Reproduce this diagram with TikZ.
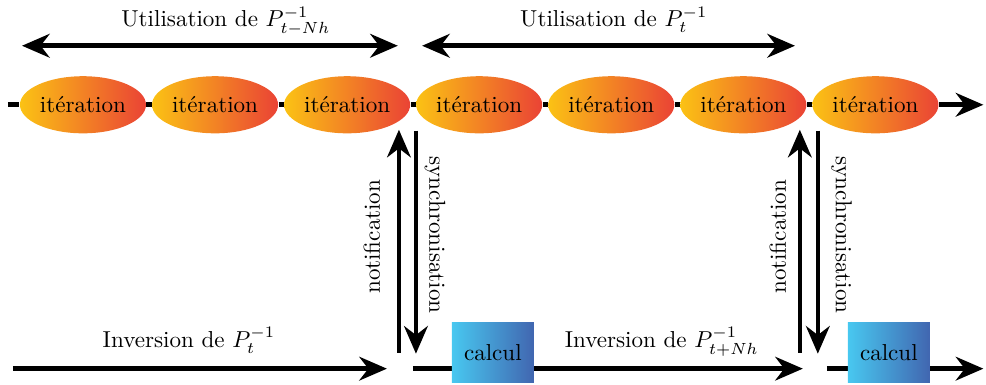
\documentclass[tikz,border=0pt]{standalone}
\usepackage{fontspec}
\usepackage{amsmath,amssymb}
\usetikzlibrary{shapes.geometric,arrows.meta}
\definecolor{iterleft}{HTML}{FBC214}
\definecolor{iterright}{HTML}{EA4335}
\definecolor{calcleft}{HTML}{48C8F0}
\definecolor{calcright}{HTML}{4166B0}
\tikzset{
  iteration/.style={
    shape = ellipse,
    inner sep = 0pt,
    minimum width = 1.92cm,
    minimum height = 0.87cm,
    left color = iterleft,
    right color = iterright
  },
  calcul/.style={
    shape = rectangle,
    inner sep = 0pt,
    minimum width = 1.25cm,
    minimum height = 0.91cm,
    left color = calcleft,
    right color = calcright
  },
  flow/.style={
    line width = 2pt,
    -{Stealth[length=4.2mm,width=3.6mm]}
  },
  span/.style={
    line width = 2pt,
    {Stealth[length=4.2mm,width=3.6mm]}-{Stealth[length=4.2mm,width=3.6mm]}
  }
}

\begin{document}
\begin{tikzpicture}
        \useasboundingbox (0,0) rectangle (15.02,5.86);
        % ligne des iterations
        \coordinate (start) at (0.12,4.264);
        \coordinate (end) at (14.98,4.264);
        \foreach \i in {1,...,7}{
                \node[iteration] (it\i) at ({1.264+2.012*(\i-1)},4.264) {itération};
            }
        \draw[line width=2pt] (start) -- (it1);
        \foreach \i [evaluate=\i as \j using int(\i+1)] in {1,...,6}{
                \draw[line width=2pt] (it\i) -- (it\j);
            }
        \draw[flow] (it7) -- (end);
        % utilisation
        \coordinate (u1a) at (0.335,5.163);
        \coordinate (u1b) at (6.06,5.163);
        \coordinate (u2a) at (6.43,5.163);
        \coordinate (u2b) at (12.11,5.163);
        \draw[span] (u1a) -- (u1b);
        \draw[span] (u2a) -- (u2b);
        \node[anchor=base] (use1) at (3.44,5.45) {Utilisation de $P^{-1}_{t-Nh}$};
        \node[anchor=base] (use2) at (9.35,5.45) {Utilisation de $P^{-1}_{t}$};
        % notification / synchronisation
        \foreach \k/\xn/\xs in {1/6.077/6.336, 2/12.184/12.458}{
                \coordinate (nb\k) at (\xn,0.487);
                \coordinate (nt\k) at (\xn,3.884);
                \coordinate (st\k) at (\xs,3.87);
                \coordinate (sb\k) at (\xs,0.472);
                \draw[flow] (nb\k) -- (nt\k);
                \draw[flow] (st\k) -- (sb\k);
            }
        \node[rotate=90] (notif1) at (5.666,2.254) {notification};
        \node[rotate=-90] (sync1) at (6.625,2.28) {synchronisation};
        \node[rotate=90] (notif2) at (11.85,2.254) {notification};
        \node[rotate=-90] (sync2) at (12.82,2.28) {synchronisation};
        % inversion
        \coordinate (b1s) at (0.198,0.244);
        \coordinate (b1e) at (5.894,0.244);
        \coordinate (b2s) at (6.29,0.244);
        \coordinate (b2e) at (12.23,0.244);
        \coordinate (b3s) at (12.595,0.244);
        \coordinate (b3e) at (14.98,0.244);
        \draw[flow] (b1s) -- (b1e);
        \draw[flow] (b2s) -- (b2e);
        \draw[flow] (b3s) -- (b3e);
        \node[calcul] (calc1) at (7.508,0.487) {calcul};
        \node[calcul] (calc2) at (13.54,0.487) {calcul};
        \node[anchor=base] (inv1) at (2.878,0.564) {Inversion de $P^{-1}_{t}$};
        \node[anchor=base] (inv2) at (10.08,0.564) {Inversion de $P^{-1}_{t+Nh}$};
    \end{tikzpicture}
\end{document}
